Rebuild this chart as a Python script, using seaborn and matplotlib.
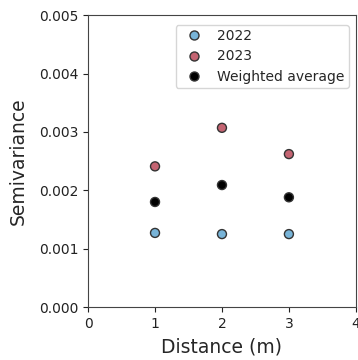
import pandas as pd
import matplotlib.pyplot as plt
import seaborn as sns

# Semivariance by lag distance
distance = [1, 2, 3]
semivar_2022 = [0.00127, 0.00125, 0.00125]
semivar_2023 = [0.00241, 0.00307, 0.00262]
semivar_weighted = [0.00180, 0.00209, 0.00188]
series_names = ['2022', '2023', 'Weighted average']
series_colors = ['#78b4d8', '#c46472', '#000000']

df = pd.DataFrame({
    'Distance': distance * 3,
    'Semivariance': semivar_2022 + semivar_2023 + semivar_weighted,
    'Series': [s for s in series_names for _ in distance],
})

sns.set_style('ticks')
plt.rcParams['font.family'] = ['DejaVu Sans']

fig = plt.figure(figsize=(3.58, 3.6), dpi=100)
ax = fig.add_axes([0.246, 0.147, 0.748, 0.811])

sns.scatterplot(data=df, x='Distance', y='Semivariance', hue='Series',
                palette=dict(zip(series_names, series_colors)),
                s=42, edgecolor='#333333', linewidth=1, ax=ax)

ax.set_xlim(0, 4)
ax.set_ylim(0, 0.005)
ax.set_xticks([0, 1, 2, 3, 4])
ax.set_yticks([0, 0.001, 0.002, 0.003, 0.004, 0.005])
ax.yaxis.set_major_formatter(plt.FormatStrFormatter('%.3f'))
ax.tick_params(labelsize=10, colors='#222222')
for sp in ax.spines.values():
    sp.set_color('#444444')
    sp.set_visible(True)
ax.set_xlabel('Distance (m)', fontsize=13.5, labelpad=5)
ax.set_ylabel('Semivariance', fontsize=13.5, labelpad=8)
ax.legend(loc='upper right', fontsize=10, handletextpad=0.7,
          borderpad=0.3, labelspacing=0.45, frameon=True,
          bbox_to_anchor=(1.0, 0.99))

fig.savefig('out.png', dpi=100)
